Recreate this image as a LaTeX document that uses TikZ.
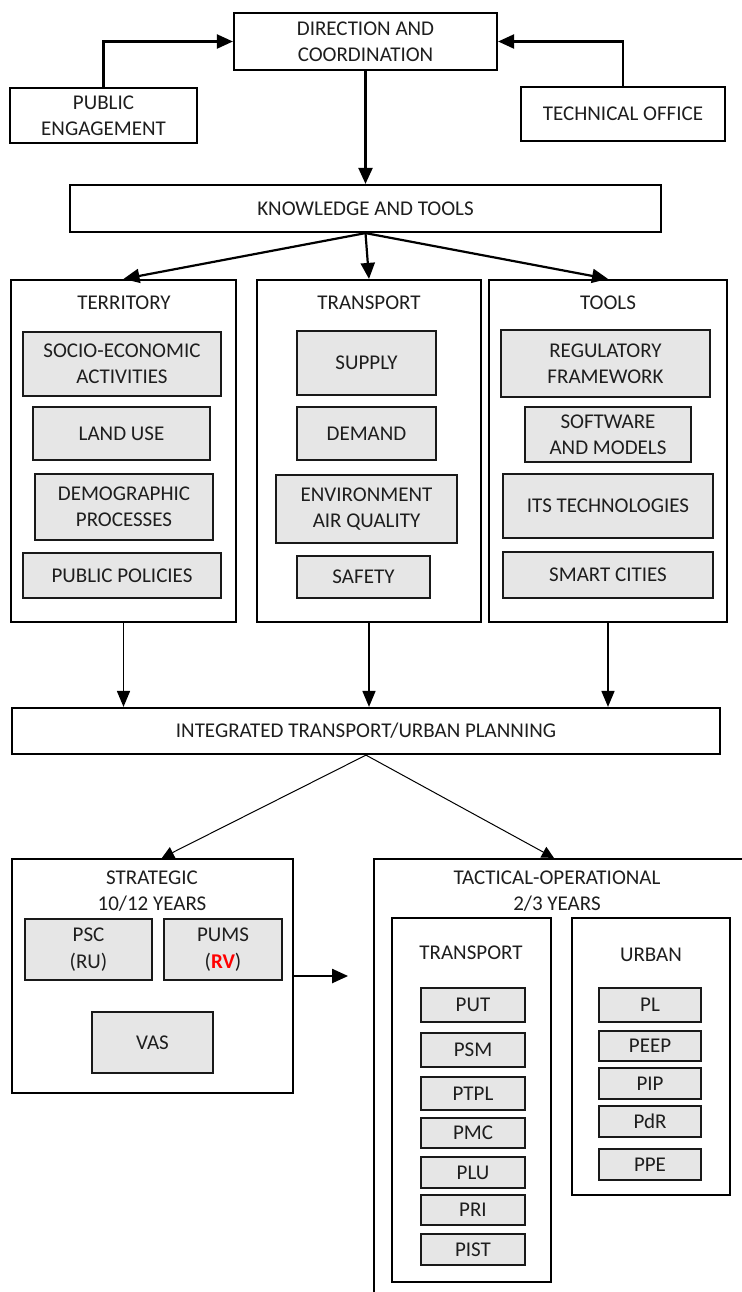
\documentclass[tikz,border=0pt]{standalone}
\usepackage{fontspec}
\setmainfont{Carlito}
\usetikzlibrary{calc,arrows.meta}
\definecolor{boxgray}{HTML}{E6E6E6}
\definecolor{txt}{HTML}{1E1E1E}
% \mybox{style}{name}{x1}{y1}{x2}{y2}{text}
\newcommand\mybox[7]{%
  \node[#1, minimum width={(#5-#3)*0.5pt}, minimum height={(#6-#4)*0.5pt}]
    (#2) at ({(#3+#5)/2},{(#4+#6)/2}) {#7};}
\begin{document}
\begin{tikzpicture}[x=0.5pt,y=-0.5pt,
  every node/.style={font=\fontsize{10.5}{13.2}\selectfont, text=txt, align=center},
  wbox/.style={draw=black, line width=1.1pt, fill=white, inner sep=0pt},
  gbox/.style={draw=black!90, line width=1.1pt, fill=boxgray, inner sep=0pt},
  lbl/.style={inner sep=0pt},
  arr/.style={line width=1.1pt, -{Triangle[length=8pt,width=7pt]}},
  marr/.style={line width=0.8pt, -{Triangle[length=8pt,width=6.5pt]}},
  tarr/.style={line width=0.5pt, -{Triangle[length=6pt,width=6pt]}}]
\useasboundingbox (0,0) rectangle (742,1292);
\clip (0,0) rectangle (742,1292);
\fill[white] (0,0) rectangle (742,1292);

% top
\mybox{wbox}{dir}{234}{13}{497}{70}{DIRECTION AND\\COORDINATION}
\mybox{wbox}{pub}{10}{88}{197}{143}{PUBLIC\\ENGAGEMENT}
\mybox{wbox}{tech}{521}{87}{725}{141}{TECHNICAL OFFICE}
\mybox{wbox}{kn}{70}{185}{661}{232}{KNOWLEDGE AND TOOLS}

\draw[arr] (pub.north) |- (dir.west);
\draw[arr] (tech.north) |- (dir.east);
\draw[arr] (dir.south) -- (kn.north);

% three columns
\mybox{wbox}{ter}{11}{280}{236}{622}{}
\mybox{wbox}{trn}{257}{280}{481}{622}{}
\mybox{wbox}{tls}{489}{280}{727}{622}{}
\node[lbl] (terT) at (124,303) {TERRITORY};
\node[lbl] (trnT) at (369,303) {TRANSPORT};
\node[lbl] (tlsT) at (608,303) {TOOLS};

\draw[arr] (kn.south) -- (ter.north);
\draw[arr] (kn.south) -- (trn.north);
\draw[arr] (kn.south) -- (tls.north);

\mybox{gbox}{soc}{23}{332}{221}{396}{SOCIO-ECONOMIC\\ACTIVITIES}
\mybox{gbox}{land}{33}{407}{210}{460}{LAND USE}
\mybox{gbox}{demo}{35}{474}{213}{540}{DEMOGRAPHIC\\PROCESSES}
\mybox{gbox}{pol}{23}{553}{221}{598}{PUBLIC POLICIES}

\mybox{gbox}{sup}{297}{331}{436}{395}{SUPPLY}
\mybox{gbox}{dem}{297}{407}{436}{460}{DEMAND}
\mybox{gbox}{env}{276}{475}{457}{543}{ENVIRONMENT\\AIR QUALITY}
\mybox{gbox}{saf}{297}{556}{430}{598}{SAFETY}

\mybox{gbox}{reg}{501}{330}{710}{397}{REGULATORY\\FRAMEWORK}
\mybox{gbox}{soft}{525}{407}{691}{462}{SOFTWARE\\AND MODELS}
\mybox{gbox}{its}{503}{474}{713}{538}{ITS TECHNOLOGIES}
\mybox{gbox}{smart}{503}{552}{713}{598}{SMART CITIES}

% integrated
\mybox{wbox}{integ}{12}{708}{720}{754}{INTEGRATED TRANSPORT/URBAN PLANNING}
\draw[marr] (ter.south) -- (ter.south |- integ.north);
\draw[marr] (trn.south) -- (trn.south |- integ.north);
\draw[marr] (tls.south) -- (tls.south |- integ.north);

% strategic
\mybox{wbox}{str}{12}{859}{293}{1093}{}
\node[lbl] (strT) at (152,891) {STRATEGIC\\10/12 YEARS};
\mybox{gbox}{psc}{25}{919}{152}{980}{PSC\\(RU)}
\mybox{gbox}{pums}{164}{919}{282}{980}{PUMS\\(\textcolor{red}{\textbf{RV}})}
\mybox{gbox}{vas}{92}{1012}{213}{1073}{VAS}

% tactical
\mybox{wbox}{tac}{374}{859}{780}{1320}{}
\node[lbl] (tacT) at (557,891) {TACTICAL-OPERATIONAL\\2/3 YEARS};

\draw[tarr] (integ.south) -- ($(str.north west)+(151,0)$);
\draw[tarr] (integ.south) -- ($(tac.north west)+(181,0)$);

\coordinate (stend) at ($(str.east)+(54,0)$);
\draw[arr] (str.east) -- (stend);

% tactical transport
\mybox{wbox}{ttr}{392}{918}{551}{1282}{}
\node[lbl] (ttrT) at (471,953) {TRANSPORT};
\mybox{gbox}{put}{421}{988}{525}{1022}{PUT}
\mybox{gbox}{psm}{421}{1033}{525}{1067}{PSM}
\mybox{gbox}{ptpl}{421}{1077}{525}{1110}{PTPL}
\mybox{gbox}{pmc}{421}{1118}{525}{1148}{PMC}
\mybox{gbox}{plu}{421}{1157}{525}{1188}{PLU}
\mybox{gbox}{pri}{421}{1195}{525}{1225}{PRI}
\mybox{gbox}{pist}{421}{1234}{525}{1265}{PIST}

% tactical urban
\mybox{wbox}{urb}{572}{918}{730}{1195}{}
\node[lbl] (urbT) at (651,955) {URBAN};
\mybox{gbox}{pl}{599}{988}{701}{1022}{PL}
\mybox{gbox}{peep}{599}{1031}{701}{1061}{PEEP}
\mybox{gbox}{pip}{599}{1068}{701}{1099}{PIP}
\mybox{gbox}{pdr}{599}{1106}{701}{1137}{PdR}
\mybox{gbox}{ppe}{599}{1149}{701}{1180}{PPE}
\end{tikzpicture}
\end{document}
